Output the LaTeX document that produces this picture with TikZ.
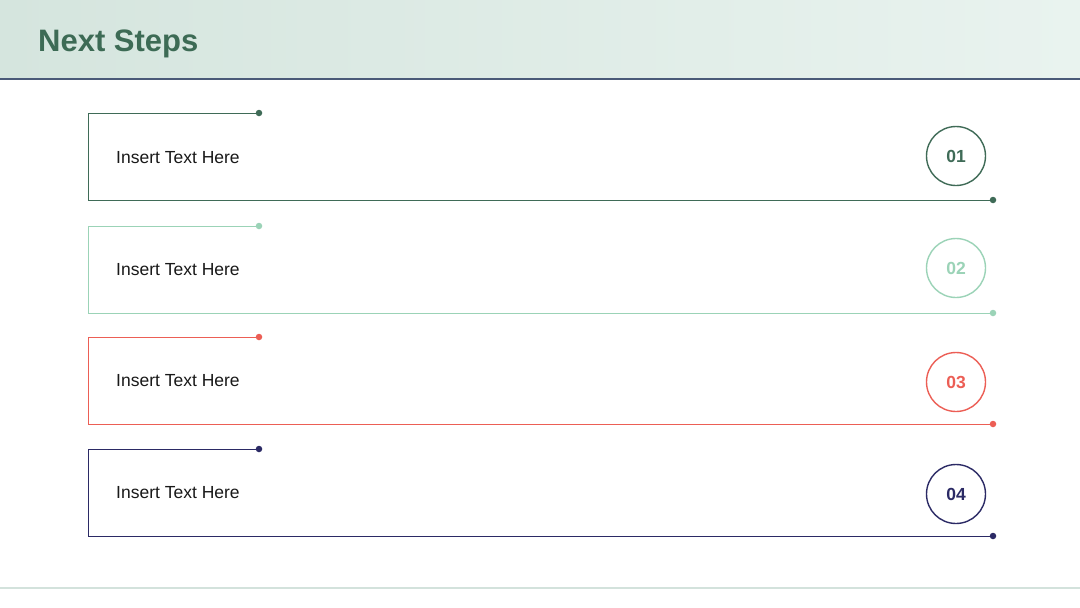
\documentclass[tikz,border=0pt]{standalone}
\usepackage{fontspec}
\setmainfont{Liberation Sans}
\begin{document}
\begin{tikzpicture}[x=1pt,y=-1pt,
  boxline/.style={line width=1pt},
  enddot/.style={circle,fill,inner sep=0pt,minimum size=6.5pt},
  numcirc/.style={circle,line width=1.4pt,minimum size=59pt,inner sep=0pt,font=\fontsize{17.5}{20}\selectfont\bfseries},
  label/.style={anchor=west,inner sep=0pt,font=\fontsize{17.5}{20}\selectfont,text=black!90}]
\definecolor{cA}{HTML}{3F6B57}
\definecolor{cB}{HTML}{9BD3B7}
\definecolor{cC}{HTML}{EC5E55}
\definecolor{cD}{HTML}{2B2A65}
\definecolor{hdL}{HTML}{D5E5DE}
\definecolor{hdR}{HTML}{E9F3EF}
\definecolor{hdline}{HTML}{4A5A78}
\definecolor{ttl}{HTML}{3D6B55}
\definecolor{foot}{HTML}{D3E2DC}
\useasboundingbox (0,0) rectangle (1080,608);
\fill[white] (0,0) rectangle (1080,608);
\shade[left color=hdL,right color=hdR] (0,0) rectangle (1080,78);
\draw[hdline,line width=2pt] (0,79) -- (1080,79);
\node[anchor=base west,inner sep=0pt,text=ttl,font=\fontsize{31}{36}\selectfont\bfseries] (title) at (38,51) {Next Steps};
\draw[foot,line width=1.5pt] (0,588) -- (1080,588);
\foreach \i/\c/\top/\cy/\ty in {1/cA/113/156/158,2/cB/226/268/270,3/cC/337/382/381,4/cD/449/494/493}{
  \pgfmathsetmacro{\bot}{\top+87}
  \coordinate (tl\i) at (88,\top);
  \coordinate (bl\i) at (88,\bot);
  \node[enddot,fill=\c] (td\i) at (259,\top) {};
  \node[enddot,fill=\c] (bd\i) at (993,\bot) {};
  \draw[boxline,draw=\c] (td\i.center) -- (tl\i) -- (bl\i) -- (bd\i.center);
  \node[label] (txt\i) at (116,\ty) {Insert Text Here};
  \node[numcirc,draw=\c,text=\c] (num\i) at (956,\cy) {0\i};
}
\end{tikzpicture}
\end{document}
